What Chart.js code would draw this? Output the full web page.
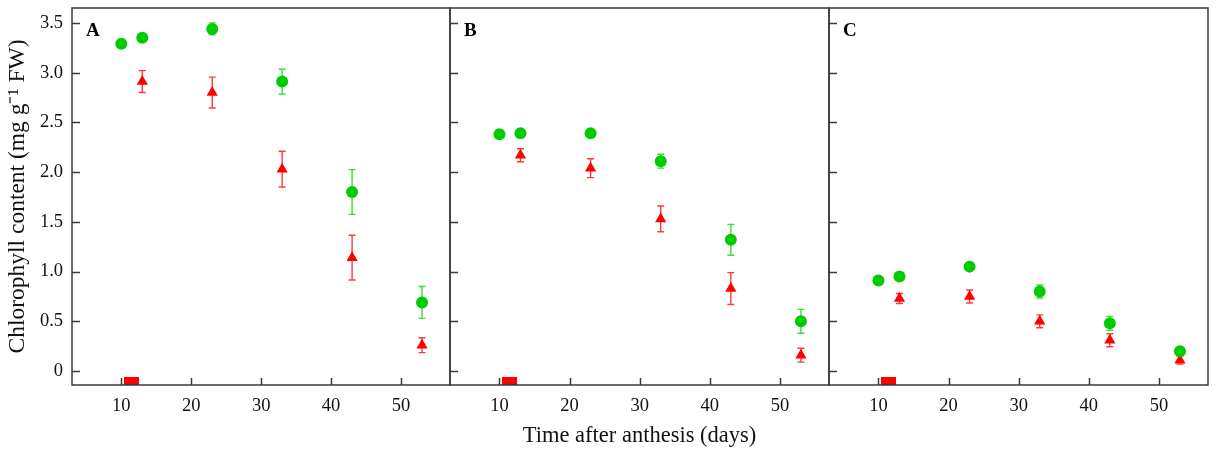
<!DOCTYPE html>
<html><head><meta charset="utf-8">
<script src="https://cdn.jsdelivr.net/npm/chart.js@4.4.0/dist/chart.umd.min.js"></script>
<style>
html,body{margin:0;padding:0;background:#fff;width:1216px;height:452px;overflow:hidden}
canvas{position:absolute;left:0;top:0}
</style></head>
<body>
<canvas id="cA" width="1216" height="452"></canvas>
<canvas id="cB" width="1216" height="452"></canvas>
<canvas id="cC" width="1216" height="452"></canvas>
<script>
const greenDays = [10, 13, 23, 33, 43, 53];
const redDays = [13, 23, 33, 43, 53];
const xTickValues = [10, 20, 30, 40, 50];
const yTickValues = [0, 0.5, 1, 1.5, 2, 2.5, 3, 3.5];
const markerDay = 11.5;
const markerLevel = -0.10;
const panelLabels = ['A', 'B', 'C'];

const greenA = [3.29, 3.35, 3.44, 2.91, 1.80, 0.69];
const greenAErr = [0.04, 0.03, 0.06, 0.125, 0.225, 0.16];
const redA = [2.91, 2.80, 2.03, 1.14, 0.26];
const redAErr = [0.11, 0.155, 0.18, 0.225, 0.075];

const greenB = [2.38, 2.39, 2.39, 2.11, 1.32, 0.50];
const greenBErr = [0, 0, 0, 0.07, 0.155, 0.12];
const redB = [2.17, 2.04, 1.53, 0.83, 0.16];
const redBErr = [0.065, 0.095, 0.13, 0.16, 0.07];

const greenC = [0.91, 0.95, 1.05, 0.80, 0.48, 0.20];
const greenCErr = [0.01, 0.01, 0.03, 0.065, 0.07, 0.02];
const redC = [0.73, 0.75, 0.50, 0.31, 0.11];
const redCErr = [0.05, 0.065, 0.065, 0.065, 0.04];

Chart.defaults.font.family = '"Liberation Serif", "Times New Roman", serif';
Chart.defaults.color = '#111';

const sq = document.createElement('canvas');
sq.width = 15; sq.height = 8;
const sqc = sq.getContext('2d'); sqc.fillStyle = '#ff0000'; sqc.fillRect(0, 0, 15, 8);

const errPlugin = {
  id: 'errbars',
  beforeDatasetsDraw(chart) {
    const {ctx, scales: {x, y}} = chart;
    ctx.save();
    chart.data.datasets.forEach(ds => {
      if (!ds.errors) return;
      ctx.strokeStyle = ds.errorColor; ctx.lineWidth = 1.4;
      ds.data.forEach((p, i) => {
        const e = ds.errors[i];
        if (!e) return;
        const px = x.getPixelForValue(p.x);
        const y1 = y.getPixelForValue(p.y + e), y2 = y.getPixelForValue(p.y - e);
        ctx.beginPath();
        ctx.moveTo(px, y1); ctx.lineTo(px, y2);
        ctx.moveTo(px - 3.5, y1); ctx.lineTo(px + 3.5, y1);
        ctx.moveTo(px - 3.5, y2); ctx.lineTo(px + 3.5, y2);
        ctx.stroke();
      });
    });
    ctx.restore();
  }
};

const framePlugin = {
  id: 'frame',
  afterDraw(chart, args, opts) {
    const {ctx, chartArea: a, scales: {x, y}} = chart;
    ctx.save();
    ctx.strokeStyle = '#3a3a3a'; ctx.lineWidth = 1.5;
    ctx.strokeRect(a.left, a.top, a.right - a.left, a.bottom - a.top);
    ctx.beginPath();
    yTickValues.forEach(v => {
      const py = Math.round(y.getPixelForValue(v)) + 0.5;
      ctx.moveTo(a.left, py); ctx.lineTo(a.left + 8, py);
    });
    xTickValues.forEach(v => {
      const px = Math.round(x.getPixelForValue(v)) + 0.5;
      ctx.moveTo(px, a.bottom); ctx.lineTo(px, a.bottom - 7);
    });
    ctx.stroke();
    ctx.fillStyle = '#000';
    ctx.font = 'bold 19px "Liberation Serif"';
    ctx.textBaseline = 'middle'; ctx.textAlign = 'left';
    ctx.fillText(opts.label, a.left + 14, a.top + 23);
    ctx.restore();
  }
};

function zeroPad(s) { s.paddingTop = 0; s.paddingBottom = 0; s.paddingLeft = 0; s.paddingRight = 0; }

function makePanel(id, idx, green, greenErr, red, redErr, opt) {
  new Chart(document.getElementById(id), {
    type: 'scatter',
    data: {
      datasets: [
        {
          data: green.map((v, i) => ({x: greenDays[i], y: v})),
          errors: greenErr, errorColor: '#3fdc3f',
          pointStyle: 'circle', pointRadius: 6,
          backgroundColor: '#00cc00', borderColor: '#00cc00', borderWidth: 0
        },
        {
          data: red.map((v, i) => ({x: redDays[i], y: v})),
          errors: redErr, errorColor: '#ff3a3a',
          pointStyle: 'triangle', pointRadius: 6.5,
          backgroundColor: '#ff0000', borderColor: '#ff0000', borderWidth: 0
        },
        {
          data: [{x: markerDay, y: markerLevel}],
          pointStyle: sq, pointRadius: 7
        }
      ]
    },
    options: {
      responsive: false, animation: false, devicePixelRatio: 1,
      layout: {padding: {left: opt.left, right: opt.right, top: 5, bottom: 0}},
      plugins: {legend: {display: false}, tooltip: {enabled: false}, frame: {label: panelLabels[idx]}},
      scales: {
        x: {
          type: 'linear', min: 2.95, max: 57,
          afterBuildTicks: s => { s.ticks = xTickValues.map(v => ({value: v})); },
          afterFit: s => { s.height = 67; zeroPad(s); },
          grid: {display: false, drawTicks: false}, border: {display: false},
          ticks: {padding: 10, font: {size: 18.5}, color: '#111', maxRotation: 0},
          title: {display: !!opt.xTitle, text: opt.xTitle || '', font: {size: 22.5}, color: '#111', padding: {top: 2, bottom: 2}}
        },
        y: {
          type: 'linear', min: -0.14, max: 3.65, display: !!opt.yAxis,
          afterBuildTicks: s => { s.ticks = yTickValues.map(v => ({value: v})); },
          afterFit: s => { s.width = opt.yAxis ? 72 : 0; zeroPad(s); },
          grid: {display: false, drawTicks: false}, border: {display: false},
          ticks: {padding: 9, font: {size: 18.5}, color: '#111', callback: v => v === 0 ? '0' : v.toFixed(1)},
          title: {display: true, text: 'Chlorophyll content (mg g\u207B\u00B9 FW)', font: {size: 23.5}, color: '#111', padding: {top: 4, bottom: 2}}
        }
      }
    },
    plugins: [errPlugin, framePlugin]
  });
}

makePanel('cA', 0, greenA, greenAErr, redA, redAErr, {left: 0, right: 1216 - 450, yAxis: true});
makePanel('cB', 1, greenB, greenBErr, redB, redBErr, {left: 450, right: 1216 - 829, xTitle: 'Time after anthesis (days)'});
makePanel('cC', 2, greenC, greenCErr, redC, redCErr, {left: 829, right: 1216 - 1208});
</script>
</body></html>
